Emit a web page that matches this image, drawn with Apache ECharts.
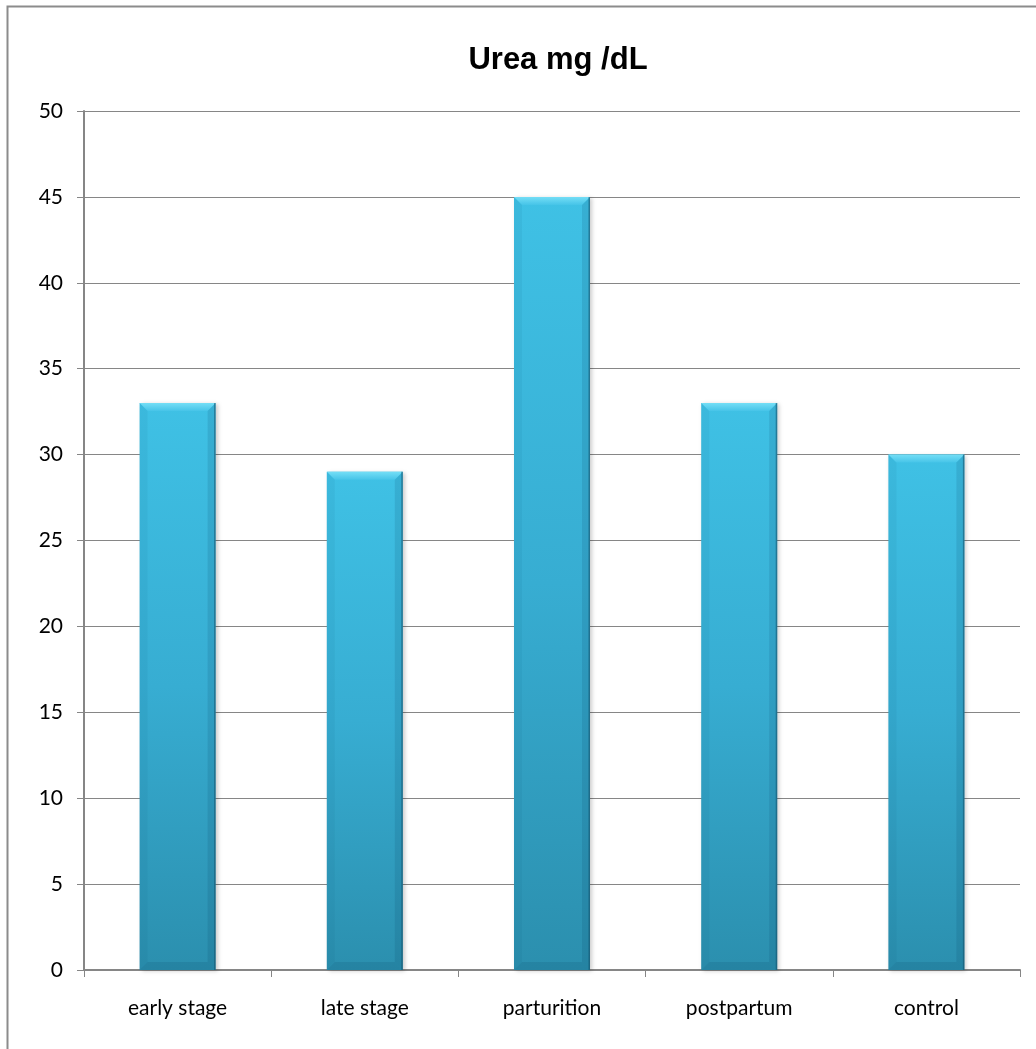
<!DOCTYPE html>
<html>
<head>
<meta charset="utf-8">
<script src="https://cdn.jsdelivr.net/npm/echarts@6/dist/echarts.min.js"></script>
<style>
  html, body { margin: 0; padding: 0; background: #fff; }
  #chart { width: 1036px; height: 1049px; }
</style>
</head>
<body>
<div id="chart"></div>
<script>
var categories = ['early stage', 'late stage', 'parturition', 'postpartum', 'control'];
var ureaValues = [33, 29, 45, 33, 30];
var yTicks = { min: 0, max: 50, interval: 5 };

var chart = echarts.init(document.getElementById('chart'));

// bevelled bar, drawn from the data through the axis scales
function renderBevelBar(params, api) {
  var top = api.coord([api.value(0), api.value(1)]);
  var base = api.coord([api.value(0), 0]);
  var w = 76, b = 8;
  var x0 = top[0] - w / 2, x1 = top[0] + w / 2;
  var y0 = top[1], y1 = base[1];
  var h = y1 - y0;
  return {
    type: 'group',
    children: [{
      type: 'rect',
      shape: { x: x0, y: y0, width: w, height: h },
      style: {
        fill: new echarts.graphic.LinearGradient(0, 0, 0, 1, [
          { offset: 0, color: '#3fc1e5' },
          { offset: 0.5, color: '#37add2' },
          { offset: 1, color: '#2b8fae' }
        ]),
        shadowColor: 'rgba(0,0,0,0.2)', shadowBlur: 4, shadowOffsetX: 2, shadowOffsetY: 1
      }
    }, {
      type: 'polygon',
      shape: { points: [[x0, y0], [x1, y0], [x1 - b, y0 + b], [x0 + b, y0 + b]] },
      style: { fill: new echarts.graphic.LinearGradient(0, 0, 0, 1, [
        { offset: 0, color: '#74def6' }, { offset: 1, color: '#46c4e8' }]) }
    }, {
      type: 'polygon',
      shape: { points: [[x0, y0], [x0 + b, y0 + b], [x0 + b, y1 - b], [x0, y1]] },
      style: { fill: 'rgba(0,70,100,0.06)' }
    }, {
      type: 'polygon',
      shape: { points: [[x1, y0], [x1 - b, y0 + b], [x1 - b, y1 - b], [x1, y1]] },
      style: { fill: 'rgba(0,50,80,0.12)' }
    }, {
      type: 'polygon',
      shape: { points: [[x0, y1], [x0 + b, y1 - b], [x1 - b, y1 - b], [x1, y1]] },
      style: { fill: 'rgba(0,50,80,0.12)' }
    }, {
      type: 'rect',
      shape: { x: x1 - 1.5, y: y0, width: 1.5, height: h },
      style: { fill: 'rgba(20,80,105,0.55)' }
    }]
  };
}

var option = {
  animation: false,
  title: {
    text: 'Urea mg /dL',
    left: 553,
    textAlign: 'center',
    top: 40,
    textStyle: { fontFamily: 'Liberation Sans, Arial', fontSize: 31, fontWeight: 'bold', color: '#000' }
  },
  graphic: [{
    type: 'rect',
    shape: { x: 7.5, y: 6.5, width: 1040, height: 1060 },
    style: { fill: 'none', stroke: '#8c8c8c', lineWidth: 2 },
    silent: true
  }],
  grid: { left: 84, right: 16, top: 111, bottom: 79, containLabel: false },
  xAxis: {
    type: 'category',
    data: categories,
    axisLine: { lineStyle: { color: '#868686', width: 2 } },
    axisTick: { show: true, alignWithLabel: false, length: 7, lineStyle: { color: '#868686', width: 1 } },
    axisLabel: { color: '#000', fontFamily: 'Lato, sans-serif', fontSize: 21, margin: 28 }
  },
  yAxis: {
    type: 'value',
    min: yTicks.min,
    max: yTicks.max,
    interval: yTicks.interval,
    axisLine: { show: true, lineStyle: { color: '#868686', width: 2 } },
    axisTick: { show: true, length: 7, lineStyle: { color: '#868686' } },
    splitLine: { lineStyle: { color: '#868686', width: 1 } },
    axisLabel: { color: '#000', fontFamily: 'Lato, sans-serif', fontSize: 21, margin: 21 }
  },
  series: [{
    type: 'custom',
    data: ureaValues.map(function (v, i) { return [i, v]; }),
    encode: { x: 0, y: 1 },
    renderItem: renderBevelBar
  }]
};

chart.setOption(option);
</script>
</body>
</html>
